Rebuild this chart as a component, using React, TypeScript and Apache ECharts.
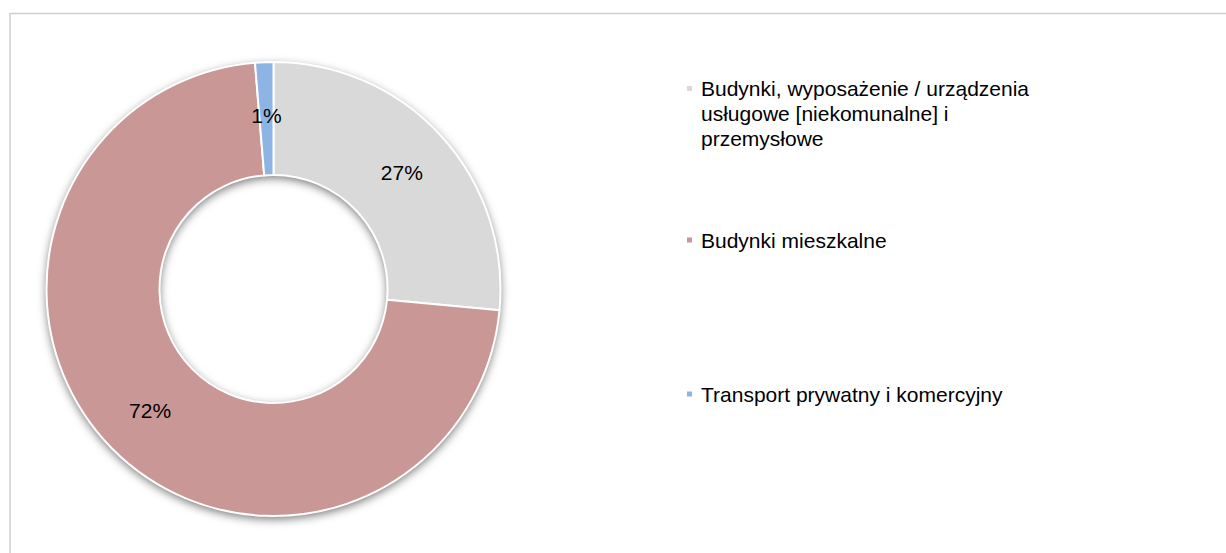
import React, { useEffect, useRef } from "react";
import * as echarts from "echarts";

const categories = [
  "Budynki, wyposażenie / urządzenia\nusługowe [niekomunalne] i\nprzemysłowe",
  "Budynki mieszkalne",
  "Transport prywatny i komercyjny",
];
const values = [26.5, 72.2, 1.3];
const colors = ["#D9D9D9", "#C99796", "#8DB4E2"];

const FONT = "'Liberation Sans', Arial, sans-serif";

export default function App() {
  const ref = useRef<HTMLDivElement>(null);
  useEffect(() => {
    if (!ref.current) return;
    const chart = echarts.init(ref.current, undefined, { renderer: "svg" });
    const legendBase = {
      orient: "vertical" as const,
      left: 685,
      padding: 0,
      itemWidth: 7,
      itemHeight: 7,
      icon: "rect",
      selectedMode: false,
      textStyle: {
        fontSize: 21,
        fontFamily: FONT,
        color: "#000",
        lineHeight: 25,
        padding: [0, 0, 0, 3],
      },
    };
    chart.setOption({
      animation: false,
      backgroundColor: "#fff",
      graphic: [
        {
          type: "rect",
          shape: { x: 10, y: 13.5, width: 1240, height: 600 },
          style: { fill: "none", stroke: "#cfcfcf", lineWidth: 1.5 },
          silent: true,
        },
      ],
      legend: [
        {
          ...legendBase,
          top: 26,
          data: [categories[0]],
          formatter: (name: string) => "\n\n" + name,
        },
        { ...legendBase, top: 227.5, data: [categories[1]] },
        { ...legendBase, top: 381.5, data: [categories[2]] },
      ],
      series: [
        {
          type: "pie",
          name: "shadow",
          silent: true,
          center: [273.5, 289],
          radius: [114, 227],
          label: { show: false },
          labelLine: { show: false },
          itemStyle: {
            color: "#fff",
            shadowBlur: 10,
            shadowColor: "rgba(0,0,0,0.55)",
            shadowOffsetY: 3,
          },
          data: [{ value: 1, name: "" }],
          z: 1,
        },
        {
          type: "pie",
          name: "data",
          center: [273.5, 289],
          radius: [114, 227],
          startAngle: 90,
          clockwise: true,
          avoidLabelOverlap: false,
          itemStyle: { borderColor: "#fff", borderWidth: 2 },
          label: {
            show: true,
            position: "inside",
            fontSize: 21,
            fontFamily: FONT,
            color: "#000",
            formatter: (p: any) => Math.round(p.percent) + "%",
          },
          labelLine: { show: false },
          emphasis: { disabled: true },
          data: categories.map((c, i) => ({
            name: c,
            value: values[i],
            itemStyle: { color: colors[i] },
          })),
          z: 2,
        },
      ],
    });
    return () => chart.dispose();
  }, []);
  return (
    <div
      ref={ref}
      style={{ position: "absolute", left: 0, top: 0, width: 1226, height: 553 }}
    />
  );
}
